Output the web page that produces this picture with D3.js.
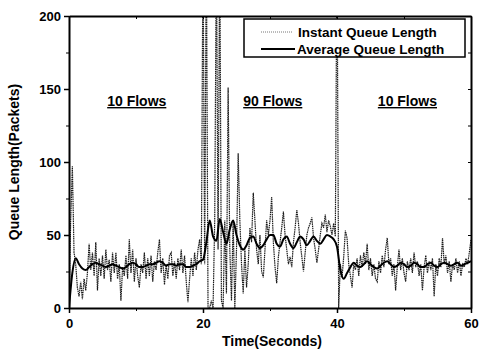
<!DOCTYPE html>
<html>
<head>
<meta charset="utf-8">
<script src="https://cdn.jsdelivr.net/npm/d3@7"></script>
<style>
  body { margin: 0; background: #fff; }
  text { font-family: "Liberation Sans", Arial, sans-serif; font-weight: bold; fill: #000; }
</style>
</head>
<body>
<svg id="chart" width="479" height="353"></svg>
<script>
// instant queue, one sample every 0.25 s (values above 200 are clipped by the frame)
const instStep = 0.25;
const instantQueue = [
  0, 60, 97, 38,   30, 14, 8, 18,   6, 20, 12, 24,   44, 26, 38, 22,   45, 12, 34, 22,
  36, 20, 40, 26,  33, 18, 38, 24,  38, 20, 30, 5,   28, 22, 36, 20,   47, 24, 40, 18,
  34, 22, 14, 30,  24, 38, 20, 34,  22, 36, 18, 32,  26, 38, 47, 24,   34, 16, 30, 20,
  36, 38, 22, 32,  20, 34, 26, 40,  24, 36, 18, 4,   20, 34, 22, 38,   26, 40, 47, 30,
  250, 30, 250, 0, 0, 5, 0, 60,     250, 40, 250, 5, 0, 60, 10, 151,   40, 5, 60, 0,
  40, 106, 60, 30, 10, 40, 14, 30,  55, 45, 79, 60,  40, 30, 50, 25,   21, 40, 60, 50,
  60, 76, 45, 28,  17, 35, 45, 55,  66, 50, 40, 30,  35, 28, 45, 55,   67, 58, 45, 35,
  25, 38, 50, 55,  58, 62, 48, 40,  31, 40, 50, 58,  55, 64, 52, 60,   56, 50, 58, 49,
  250, 0, 30, 21,  35, 53, 48, 30,  22, 14, 30, 26,  34, 22, 36, 28,   38, 30, 44, 26,
  34, 22, 30, 20,  18, 32, 24, 36,  28, 40, 48, 30,  34, 22, 30, 12,   28, 40, 26, 34,
  24, 18, 32, 26,  34, 24, 38, 28,  32, 22, 30, 12,  28, 36, 24, 32,   26, 34, 8, 30,
  22, 34, 28, 48,  30, 36, 24, 32,  18, 30, 26, 34,  24, 32, 22, 30,   28, 34, 30, 38,
  47
];

// average queue, one sample every 0.5 s
const avgStep = 0.5;
const averageQueue = [
  0, 24, 34, 30, 27, 26, 28, 30, 31, 30, 29, 28, 29, 30, 29, 28, 27, 28, 30, 31,
  30, 28, 28, 29, 30, 30, 31, 32, 31, 29, 30, 30, 29, 30, 30, 28, 28, 29, 30, 32,
  33, 45, 60, 49, 46, 61, 52, 44, 54, 60, 50, 43, 40, 43, 48, 49, 44, 41, 43, 47,
  50, 50, 44, 42, 47, 49, 44, 41, 45, 49, 47, 43, 46, 49, 46, 44, 47, 50, 49, 47,
  42, 26, 20, 24, 28, 31, 29, 28, 30, 32, 30, 28, 27, 29, 31, 32, 30, 28, 29, 31,
  30, 28, 29, 31, 30, 28, 28, 30, 31, 29, 28, 30, 31, 30, 29, 30, 31, 29, 30, 31,
  32
];

const xTicks = [0, 20, 40, 60];
const xMinor = [10, 30, 50];
const yTicks = [0, 50, 100, 150, 200];
const yMinor = [25, 75, 125, 175];
const phaseLabels = ["10 Flows", "90 Flows", "10 Flows"];
const phaseStarts = [5.7, 26, 46.1];   // seconds, where each label begins
const seriesNames = ["Instant Queue Length", "Average Queue Length"];

const W = 479, H = 353;
const mLeft = 69, mRight = 471, mTop = 16, mBottom = 308;

const svg = d3.select("#chart");
const x = d3.scaleLinear().domain([0, 60]).range([mLeft, mRight]);
const y = d3.scaleLinear().domain([0, 200]).range([mBottom, mTop]);

svg.append("defs").append("clipPath").attr("id", "plot")
  .append("rect").attr("x", mLeft).attr("y", mTop)
  .attr("width", mRight - mLeft).attr("height", mBottom - mTop + 1);

// series
const instLine = d3.line().x((d, i) => x(i * instStep)).y(d => y(d));
const avgLine = d3.line().x((d, i) => x(i * avgStep)).y(d => y(d)).curve(d3.curveMonotoneX);

const g = svg.append("g").attr("clip-path", "url(#plot)");
g.append("path").datum(instantQueue)
  .attr("d", instLine)
  .attr("fill", "none").attr("stroke", "#1a1a1a").attr("stroke-width", 1.2)
  .attr("stroke-dasharray", "1.5,0.7");
g.append("path").datum(averageQueue)
  .attr("d", avgLine)
  .attr("fill", "none").attr("stroke", "#000").attr("stroke-width", 2);

// axes
const axisStyle = sel => {
  sel.select(".domain").attr("stroke-width", 2);
  sel.selectAll(".tick line").attr("stroke-width", 1.5);
  sel.selectAll(".tick text").style("font-size", "13px").style("font-family", "Liberation Sans, Arial, sans-serif").style("font-weight", "bold");
};

svg.append("g").attr("transform", `translate(0,${mBottom})`)
  .call(d3.axisBottom(x).tickValues(xTicks).tickSize(5).tickPadding(6).tickSizeOuter(0))
  .call(axisStyle);
svg.append("g").attr("transform", `translate(0,${mBottom})`)
  .call(d3.axisBottom(x).tickValues(xMinor).tickSize(3).tickFormat("").tickSizeOuter(0))
  .call(s => s.select(".domain").remove());

svg.append("g").attr("transform", `translate(${mLeft},0)`)
  .call(d3.axisLeft(y).tickValues(yTicks).tickSize(5).tickPadding(3).tickSizeOuter(0))
  .call(axisStyle);
svg.append("g").attr("transform", `translate(${mLeft},0)`)
  .call(d3.axisLeft(y).tickValues(yMinor).tickSize(3).tickFormat("").tickSizeOuter(0))
  .call(s => s.select(".domain").remove());

// mirrored top / right frame
svg.append("g").attr("transform", `translate(0,${mTop})`)
  .call(d3.axisBottom(x).tickValues(xTicks.concat(xMinor)).tickSize(3).tickFormat("").tickSizeOuter(0))
  .call(s => s.select(".domain").attr("stroke-width", 2));
svg.append("g").attr("transform", `translate(${mRight},0)`)
  .call(d3.axisLeft(y).tickValues(yTicks.concat(yMinor)).tickSize(3).tickFormat("").tickSizeOuter(0))
  .call(s => s.select(".domain").attr("stroke-width", 2));

// axis titles
svg.append("text")
  .attr("x", (mLeft + mRight) / 2 + 2).attr("y", 346)
  .attr("text-anchor", "middle").style("font-size", "14px")
  .text("Time(Seconds)");
svg.append("text")
  .attr("transform", `translate(19,${(mTop + mBottom) / 2}) rotate(-90)`)
  .attr("text-anchor", "middle").style("font-size", "14px")
  .text("Queue Length(Packets)");

// phase labels
phaseLabels.forEach((lab, i) => {
  svg.append("text")
    .attr("x", x(phaseStarts[i])).attr("y", 106)
    .style("font-size", "14px").style("text-decoration", "underline")
    .text(lab);
});

// legend
const lg = svg.append("g");
lg.append("rect").attr("x", 244).attr("y", 19).attr("width", 221).attr("height", 38)
  .attr("fill", "#fff").attr("stroke", "#000").attr("stroke-width", 1.5);
lg.append("line").attr("x1", 261).attr("x2", 293).attr("y1", 32).attr("y2", 32)
  .attr("stroke", "#777").attr("stroke-width", 1).attr("stroke-dasharray", "1,1");
lg.append("line").attr("x1", 261).attr("x2", 295).attr("y1", 49).attr("y2", 49)
  .attr("stroke", "#000").attr("stroke-width", 2);
lg.append("text").attr("x", 298).attr("y", 37).style("font-size", "13.5px").text(seriesNames[0]);
lg.append("text").attr("x", 297).attr("y", 54).style("font-size", "13.5px").text(seriesNames[1]);
</script>
</body>
</html>
